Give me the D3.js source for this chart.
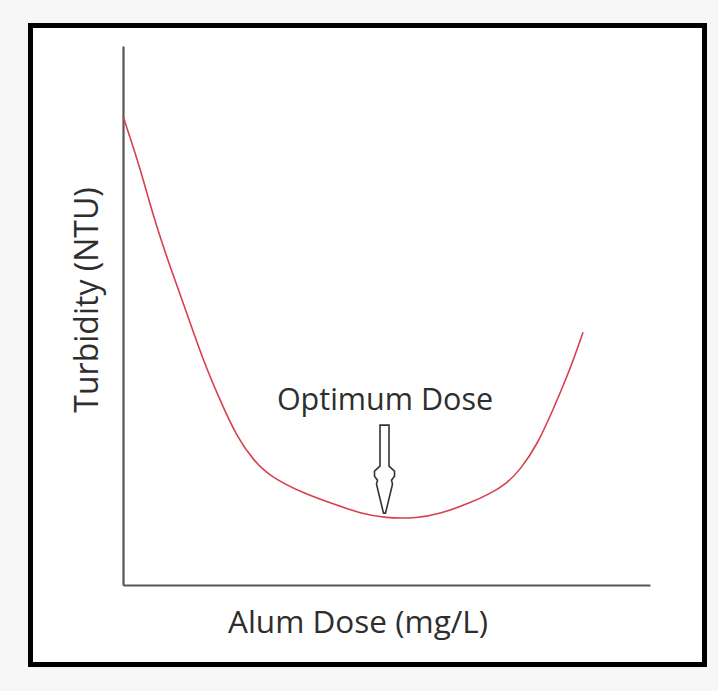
<!DOCTYPE html>
<html>
<head>
<meta charset="utf-8">
<script src="https://cdn.jsdelivr.net/npm/d3@7"></script>
<style>
  body { margin: 0; background: #f7f7f7; }
  svg text { font-family: "Open Sans", sans-serif; fill: #2e2e2e; }
</style>
</head>
<body>
<svg id="chart" width="718" height="691"></svg>
<script>
// curve (arbitrary units, 0-100 on both axes)
const doses = [0, 3.2, 5.7, 8.9, 12.1, 15.2, 18.4, 21.6, 24.7, 27.9, 34.2, 40.6, 45.0, 49.7,
  55.8, 60.2, 65.8, 69.6, 72.9, 75.3, 78.6, 81.6, 84.8, 87.3];
const turbidity = [87, 77.6, 68.5, 59.1, 50.5, 41.7, 34.3, 27.5, 23.2, 20.1, 17.0, 14.8, 13.3, 12.4,
  12.4, 13.2, 15.2, 16.9, 18.9, 21.3, 26.0, 32.5, 39.9, 46.9];
const optimumDose = 50;
const labels = { x: "Alum Dose (mg/L)", y: "Turbidity (NTU)", note: "Optimum Dose" };

(function () {
  const svg = d3.select("#chart");
  const plot = { left: 123, right: 650, top: 46, bottom: 585 };

  // outer frame
  svg.append("rect")
    .attr("x", 30.5).attr("y", 25.5)
    .attr("width", 674).attr("height", 639)
    .attr("fill", "#fff").attr("stroke", "#000").attr("stroke-width", 5);

  const x = d3.scaleLinear().domain([0, 100]).range([plot.left, plot.right]);
  const y = d3.scaleLinear().domain([0, 100]).range([plot.bottom, plot.top]);

  const xAxis = svg.append("g")
    .attr("transform", `translate(0,${plot.bottom})`)
    .call(d3.axisBottom(x).ticks(0).tickSize(0));
  const yAxis = svg.append("g")
    .attr("transform", `translate(${plot.left},0)`)
    .call(d3.axisLeft(y).ticks(0).tickSize(0));
  [xAxis, yAxis].forEach(g => g.select(".domain").attr("stroke", "#555").attr("stroke-width", 2.2));

  const points = doses.map((d, i) => [d, turbidity[i]]);
  const line = d3.line()
    .x(d => x(d[0]))
    .y(d => y(d[1]))
    .curve(d3.curveBasis);

  svg.append("path")
    .datum(points)
    .attr("d", line)
    .attr("fill", "none")
    .attr("stroke", "#d8404f")
    .attr("stroke-width", 1.6);

  // hollow arrow pointing at the minimum
  const tipX = x(optimumDose) - 2, tipY = y(d3.min(turbidity)) - 5;
  const arrow = [[-4.5, -88], [4.5, -88], [4.5, -47], [10, -42], [10, -37], [7, -33], [8, -29],
    [1, 0], [-1, 0], [-8, -29], [-7, -33], [-10, -37], [-10, -42], [-4.5, -47]];
  svg.append("path")
    .attr("d", "M" + arrow.map(p => [tipX + p[0], tipY + p[1]].join(",")).join("L") + "Z")
    .attr("fill", "#fff")
    .attr("stroke", "#333")
    .attr("stroke-width", 1.6);

  svg.append("text")
    .attr("x", 385).attr("y", 410)
    .attr("text-anchor", "middle")
    .attr("font-size", 30.5)
    .text(labels.note);

  svg.append("text")
    .attr("x", 358).attr("y", 633)
    .attr("text-anchor", "middle")
    .attr("font-size", 31.5)
    .text(labels.x);

  svg.append("text")
    .attr("transform", "translate(98,300) rotate(-90)")
    .attr("text-anchor", "middle")
    .attr("font-size", 32)
    .text(labels.y);
})();
</script>
</body>
</html>
